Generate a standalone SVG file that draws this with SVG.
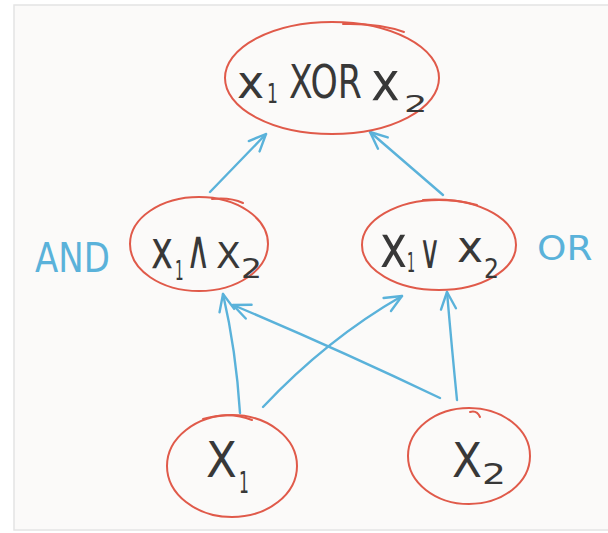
<svg xmlns="http://www.w3.org/2000/svg" width="608" height="533" viewBox="0 0 608 533">
  <style>
    .sheet { fill: #fbfaf9; stroke: #e4e4e4; stroke-width: 1.5; }
    .ring { fill: none; stroke: #e05a4a; stroke-width: 2; stroke-linecap: round; }
    .ink { fill: #383838; font-family: "DejaVu Sans", sans-serif; }
    .note { fill: #5ab2da; font-family: "DejaVu Sans", sans-serif; }
    .wire { fill: none; stroke: #5ab2da; stroke-width: 2.4; stroke-linecap: round; stroke-linejoin: round; marker-end: url(#chev); }
  </style>
  <defs>
    <marker id="chev" viewBox="-20 -12 24 24" refX="0" refY="0" markerWidth="24" markerHeight="24" markerUnits="userSpaceOnUse" orient="auto">
      <path d="M -17 -7.5 L 0 0 L -17 7.5" fill="none" stroke="#5ab2da" stroke-width="2.4" stroke-linecap="round" stroke-linejoin="round"/>
    </marker>
  </defs>

  <rect width="608" height="533" fill="#ffffff"/>
  <rect class="sheet" x="14" y="5" width="600" height="525"/>

  <!-- connectors -->
  <g id="connectors">
    <path class="wire" d="M240,413 Q236,350 223,294"/>
    <path class="wire" d="M440,398 Q335,348 233,305"/>
    <path class="wire" d="M263,407 Q327,339 402,296"/>
    <path class="wire" d="M457,400 Q452,350 447,292"/>
    <path class="wire" d="M210,192 L266,134"/>
    <path class="wire" d="M443,195 L370,132"/>
  </g>

  <!-- x1 XOR x2 -->
  <g id="node-xor">
    <ellipse class="ring" cx="332" cy="78" rx="107" ry="56"/>
    <path class="ring" d="M343,24 Q380,23 404,32"/>
    <text class="ink" font-size="46" transform="translate(237,98)">x</text>
    <text class="ink" font-size="27" transform="translate(267,103) scale(0.64,1)">1</text>
    <text class="ink" font-size="47" transform="translate(289,98) scale(0.737,1)">XOR</text>
    <text class="ink" font-size="54" transform="translate(371,100) scale(0.9,1)">x</text>
    <text class="ink" font-size="23" transform="translate(404,112) scale(1.6,1)">2</text>
  </g>

  <!-- x1 AND x2 -->
  <g id="node-and">
    <ellipse class="ring" cx="199" cy="244" rx="69" ry="47"/>
    <path class="ring" d="M212,199 Q230,197 243,203"/>
    <text class="ink" font-size="54" transform="translate(151,268) scale(0.69,1)">x</text>
    <text class="ink" font-size="27" transform="translate(175,280) scale(0.5,1)">1</text>
    <text class="ink" font-size="54" transform="translate(186,268) scale(0.62,1)">∧</text>
    <text class="ink" font-size="36" transform="translate(216,268)">X</text>
    <text class="ink" font-size="26" transform="translate(241,278) scale(1.27,1)">2</text>
    <text class="note" font-size="41" transform="translate(35,272) scale(0.83,1)">AND</text>
  </g>

  <!-- x1 OR x2 -->
  <g id="node-or">
    <ellipse class="ring" cx="439" cy="245" rx="77" ry="45"/>
    <path class="ring" d="M423,200 Q450,198 477,205"/>
    <text class="ink" font-size="58" transform="translate(380,267) scale(0.79,1)">x</text>
    <text class="ink" font-size="27" transform="translate(407,272) scale(0.47,1)">1</text>
    <text class="ink" font-size="48" transform="translate(419,268) scale(0.62,1)">∨</text>
    <text class="ink" font-size="44" transform="translate(457,262)">x</text>
    <text class="ink" font-size="27" transform="translate(484,278) scale(0.87,1)">2</text>
    <text class="note" font-size="34" transform="translate(537,260) scale(1.1,1)">OR</text>
  </g>

  <!-- input X1 -->
  <g id="node-x1">
    <ellipse class="ring" cx="232" cy="466" rx="65" ry="51"/>
    <path class="ring" d="M203,419 Q230,411 252,420"/>
    <text class="ink" font-size="50" transform="translate(206,477) scale(0.9,1)">X</text>
    <text class="ink" font-size="31" transform="translate(239,493) scale(0.5,1)">1</text>
  </g>

  <!-- input X2 -->
  <g id="node-x2">
    <ellipse class="ring" cx="469" cy="456" rx="61" ry="48"/>
    <path class="ring" d="M470,412 Q477,410 480,417"/>
    <text class="ink" font-size="48" transform="translate(452,477) scale(0.91,1)">X</text>
    <text class="ink" font-size="29" transform="translate(482,484) scale(1.3,1)">2</text>
  </g>
</svg>
